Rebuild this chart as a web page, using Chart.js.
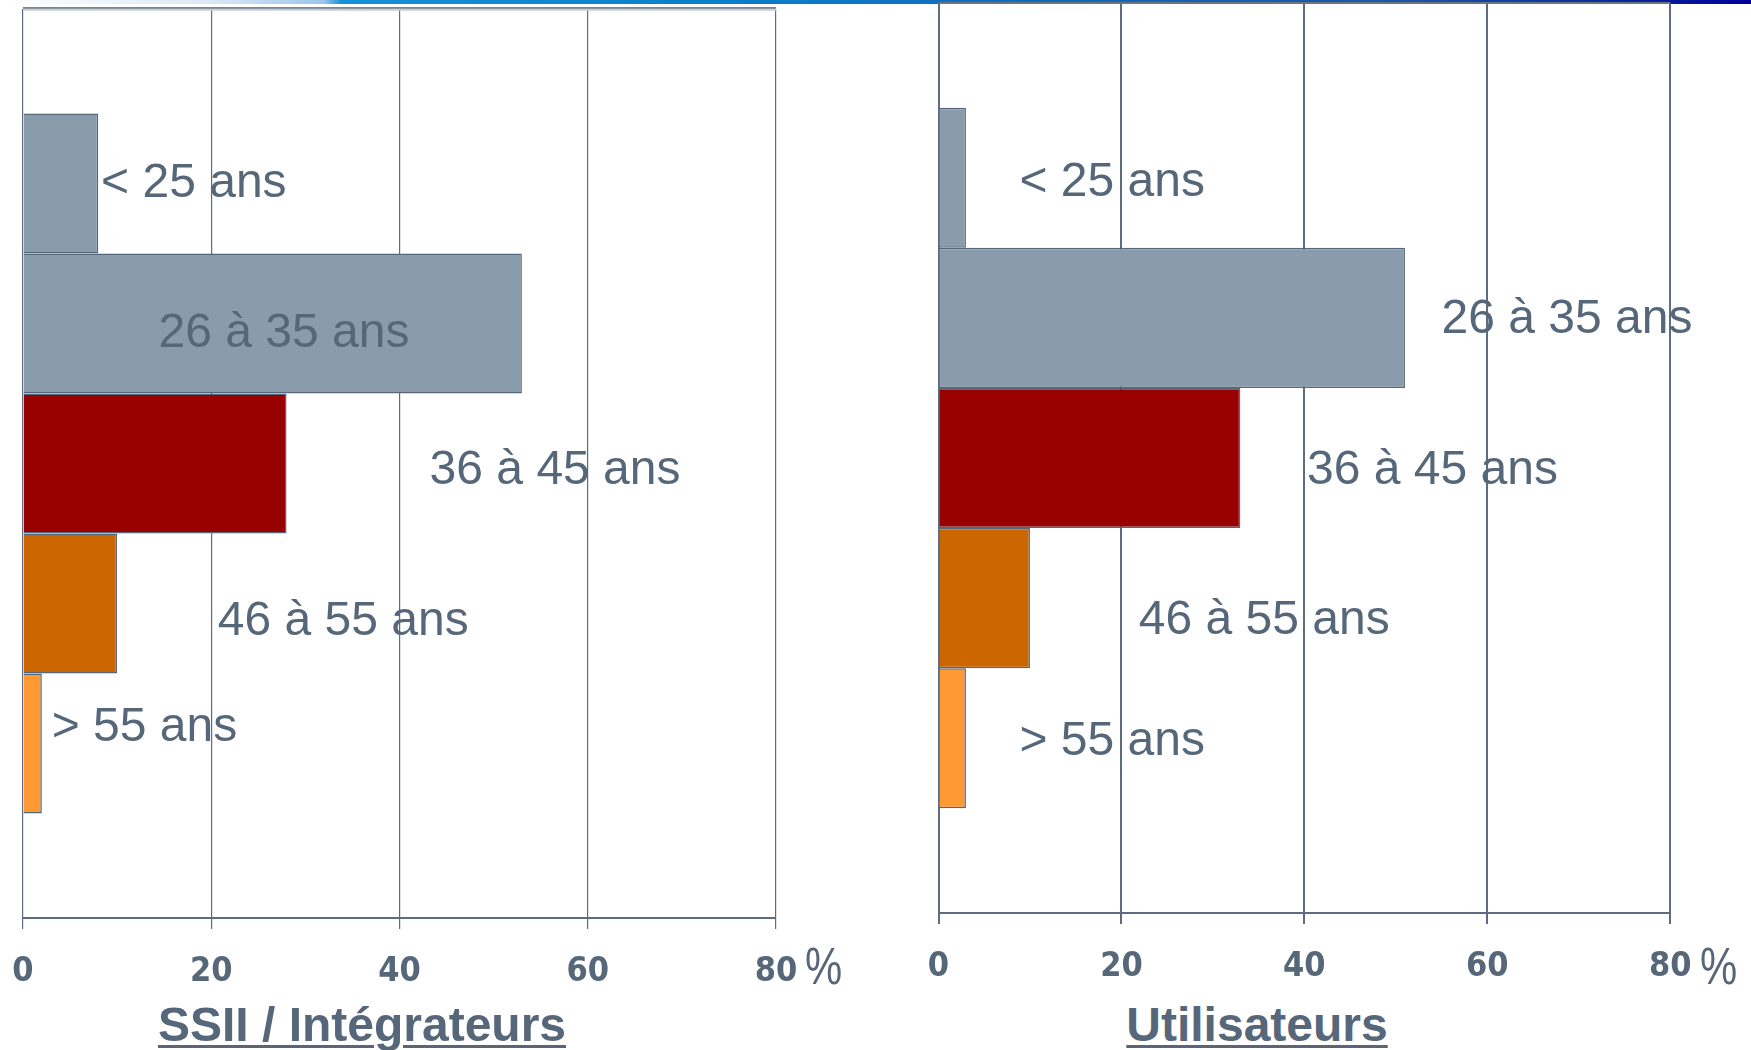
<!DOCTYPE html>
<html>
<head>
<meta charset="utf-8">
<script src="https://cdn.jsdelivr.net/npm/chart.js@4.4.0/dist/chart.umd.min.js"></script>
<style>
  body { margin: 0; background: #fff; width: 1751px; height: 1050px; position: relative; overflow: hidden;
         font-family: "Liberation Sans", Arial, sans-serif; }
  #bandeau { position: absolute; left: 0; top: 0; width: 1751px; height: 4px;
    background: linear-gradient(to right, #ffffff 0%, #dbe8f5 12%, #9cc6ea 18.5%, #1690d8 19.5%, #0a7fcb 42%, #1169ba 60%, #1c55a8 80%, #0a2a9c 92%, #000099 100%); }
  canvas { position: absolute; top: 0; }
  .titre { position: absolute; top: 1001px; font-weight: bold; font-size: 48px; line-height: 48px; color: #56677a;
           text-decoration: underline; text-decoration-thickness: 3px; text-underline-offset: 4px;
           white-space: nowrap; transform: translateX(-50%); }
  .pct { position: absolute; top: 941px; font-size: 51px; line-height: 51px; color: #56677a;
         transform: scaleX(0.82); transform-origin: left top; }
</style>
</head>
<body>
<div id="bandeau"></div>
<canvas id="chartSSII" width="880" height="1000" style="left:0"></canvas>
<canvas id="chartUtil" width="871" height="995" style="left:880px"></canvas>
<div class="pct" style="left:805px">%</div>
<div class="pct" style="left:1700px">%</div>
<div class="titre" style="left:362px">SSII / Intégrateurs</div>
<div class="titre" style="left:1257px">Utilisateurs</div>
<script>
// Données
const ageGroups = ['< 25 ans', '26 à 35 ans', '36 à 45 ans', '46 à 55 ans', '> 55 ans'];
const ssiiValues = [8, 53, 28, 10, 2];
const userValues = [3, 51, 33, 10, 3];
const xTicks = [0, 20, 40, 60, 80];

// Styles
const barColors = ['#8a9bab', '#8a9bab', '#990000', '#cc6600', '#ff9933'];
const textColor = '#56677a';
const lineColor = '#5d6d7f';
// position des étiquettes : x en %, décalage vertical (px) depuis le centre de la barre
const ssiiLabelPos = [[8.3, -3.5], [14.4, 6], [43.2, 3.5], [20.7, 14], [3.05, -19.5]];
const userLabelPos = [[8.85, 1], [55.0, -2], [40.3, 9], [21.9, 19], [8.85, 0]];

// Plugin : étiquettes des tranches d'âge + trait du haut
const etiquettesPlugin = {
  id: 'etiquettes',
  afterDatasetsDraw(chart, args, opts) {
    const { ctx, chartArea, scales: { x } } = chart;
    ctx.save();
    opts.topLines.forEach(l => {
      ctx.strokeStyle = l.color;
      ctx.lineWidth = l.width;
      ctx.beginPath();
      ctx.moveTo(chartArea.left, chartArea.top + l.dy);
      ctx.lineTo(chartArea.right, chartArea.top + l.dy);
      ctx.stroke();
    });
    ctx.font = '48px "Liberation Sans", Arial, sans-serif';
    ctx.fillStyle = textColor;
    ctx.textAlign = 'left';
    ctx.textBaseline = 'alphabetic';
    chart.data.datasets.forEach((ds, i) => {
      const bar = chart.getDatasetMeta(i).data[0];
      const [vx, dy] = opts.positions[i];
      ctx.fillText(ds.label, x.getPixelForValue(vx), bar.y + dy + 17.2);
    });
    ctx.restore();
  }
};

function creerGraphique(id, valeurs, positions, padding, gridWidth, topLines) {
  const ctx = document.getElementById(id).getContext('2d');
  return new Chart(ctx, {
    type: 'bar',
    data: {
      labels: ['Âge'],
      datasets: ageGroups.map((age, i) => ({
        label: age,
        data: [valeurs[i]],
        backgroundColor: barColors[i],
        borderColor: '#56677a',
        borderWidth: 1.5,
        categoryPercentage: 0.77,
        barPercentage: 1,
      })),
    },
    options: {
      indexAxis: 'y',
      responsive: false,
      animation: false,
      devicePixelRatio: 1,
      layout: { padding: padding },
      plugins: {
        legend: { display: false },
        tooltip: { enabled: false },
        etiquettes: { positions: positions, topLines: topLines },
      },
      scales: {
        x: {
          min: 0,
          max: 80,
          afterBuildTicks: axis => { axis.ticks = xTicks.map(v => ({ value: v })); },
          afterFit: axis => { axis.height = 82; },
          grid: { color: lineColor, lineWidth: gridWidth, tickLength: 11, tickColor: lineColor },
          border: { color: lineColor, width: 2 },
          ticks: {
            padding: 3,
            color: textColor,
            maxRotation: 0,
            font: { family: '"DejaVu Sans Condensed", "DejaVu Sans", sans-serif', weight: 'bold', size: 34, lineHeight: 2.36 },
          },
        },
        y: { display: false },
      },
    },
    plugins: [etiquettesPlugin],
  });
}

creerGraphique('chartSSII', ssiiValues, ssiiLabelPos,
  { left: 23, right: 104, top: 9, bottom: 0 }, 1.2,
  [{ dy: -1, width: 1.5, color: '#4e5d6e' }, { dy: 0.8, width: 2, color: '#c5cfd9' }]);

creerGraphique('chartUtil', userValues, userLabelPos,
  { left: 58.5, right: 80.8, top: 3, bottom: 0 }, 2,
  [{ dy: 0, width: 2, color: '#6b7580' }]);
</script>
</body>
</html>
